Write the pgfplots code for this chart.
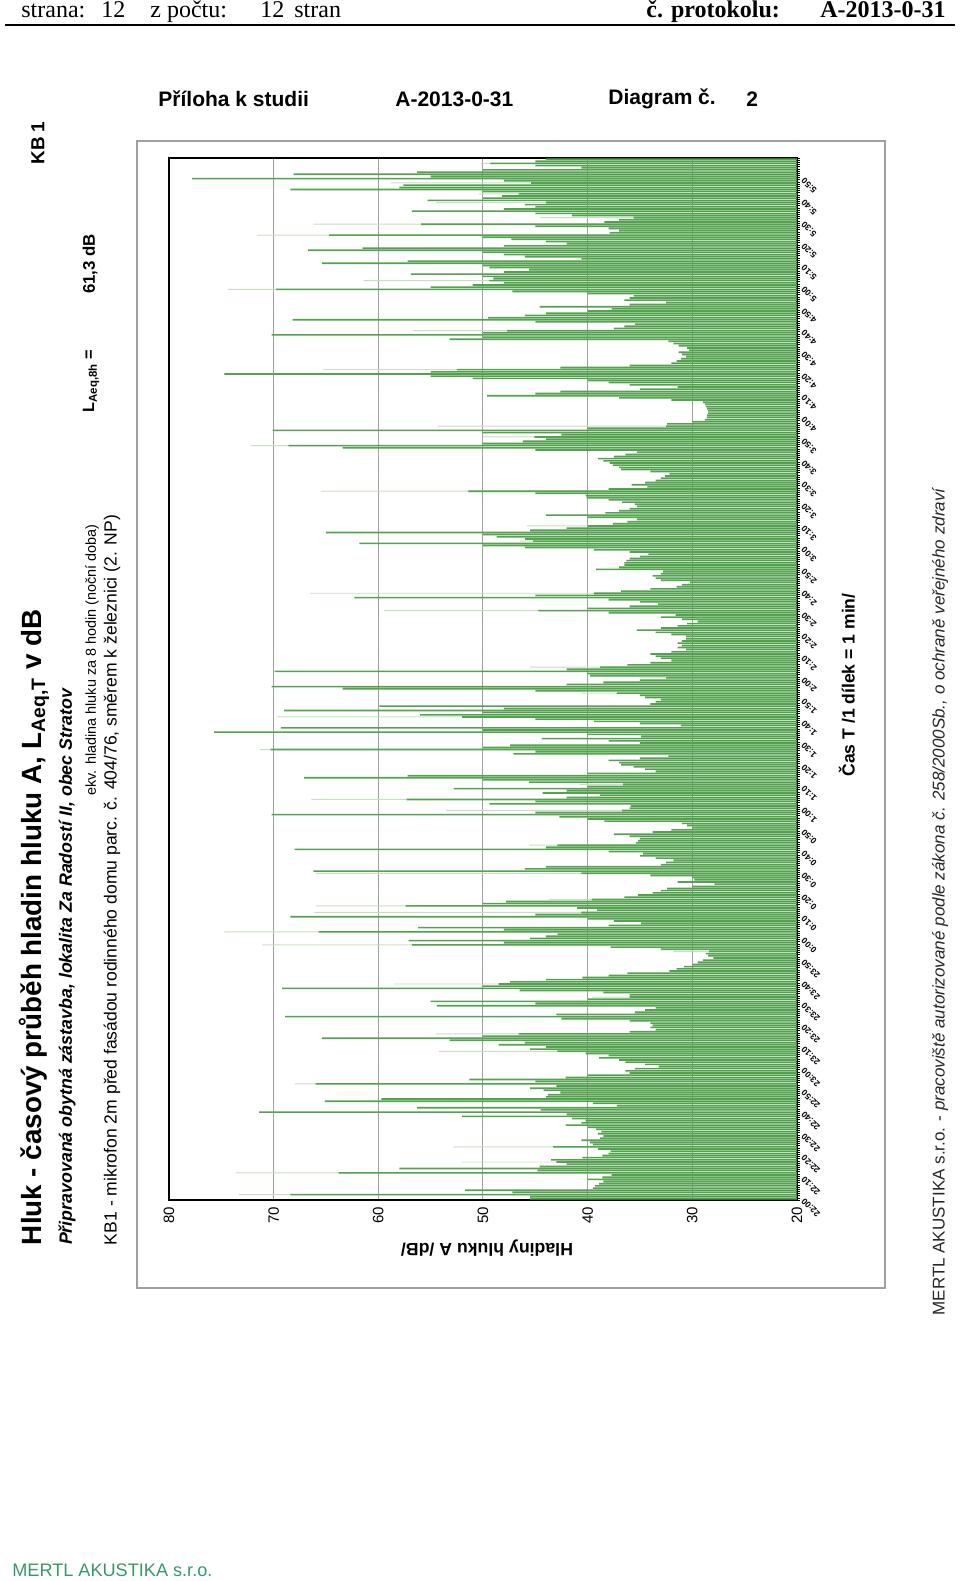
\documentclass[border=0pt]{standalone}
\usepackage{fontspec}
\setmainfont{Liberation Sans}
\newfontfamily\tnr{Liberation Serif}
\usepackage{graphicx}
\usepackage{pgfplots}
\usepackage{pgfplotstable}
\pgfplotsset{compat=1.18}
\definecolor{barfill}{RGB}{84,162,80}
\definecolor{barlight}{RGB}{200,222,194}
\definecolor{gridgray}{RGB}{160,160,160}
\definecolor{mertl}{RGB}{58,150,104}

% L_Aeq,1min for each minute m (0 = 22:00 ... 479 = 5:59)
\pgfplotstableread[row sep=\\]{
m v\\
0 45.5\\ 1 45.5\\ 2 68.4\\ 3 47.2\\ 4 51.7\\ 5 39.5\\ 6 39.3\\ 7 38.9\\ 8 38.5\\ 9 40\\
10 38.6\\ 11 37.7\\ 12 63.8\\ 13 44.8\\ 14 58\\ 15 44.6\\ 16 42\\ 17 43\\ 18 43.5\\ 19 40.5\\
20 38.6\\ 21 38\\ 22 37.8\\ 23 39\\ 24 43.3\\ 25 39.5\\ 26 39.8\\ 27 40.6\\ 28 38.8\\ 29 38.5\\
30 39\\ 31 38.7\\ 32 39.2\\ 33 40\\ 34 42.1\\ 35 40.6\\ 36 40.2\\ 37 41.5\\ 38 52\\ 39 42\\
40 71.4\\ 41 44.5\\ 42 56.3\\ 43 37.2\\ 44 39.5\\ 45 65.1\\ 46 59.7\\ 47 44\\ 48 43.8\\ 49 42.6\\
50 44.2\\ 51 45.5\\ 52 43\\ 53 66\\ 54 45\\ 55 51.3\\ 56 42.1\\ 57 40\\ 58 36\\ 59 36.4\\
60 35.5\\ 61 33.2\\ 62 34.5\\ 63 36.4\\ 64 37\\ 65 38.9\\ 66 38\\ 67 40.2\\ 68 42.9\\ 69 45.5\\
70 44\\ 71 48.5\\ 72 46\\ 73 53.2\\ 74 65.4\\ 75 50\\ 76 46.6\\ 77 36\\ 78 33.5\\ 79 34\\
80 33.8\\ 81 34\\ 82 36\\ 83 42.5\\ 84 68.9\\ 85 43\\ 86 35.5\\ 87 34.5\\ 88 33.5\\ 89 54.4\\
90 45\\ 91 55\\ 92 40\\ 93 36\\ 94 36\\ 95 38.5\\ 96 46.5\\ 97 69.2\\ 98 50\\ 99 48.5\\
100 47.4\\ 101 44\\ 102 40.5\\ 103 38\\ 104 36.2\\ 105 32.2\\ 106 31.5\\ 107 30.8\\ 108 30\\ 109 29.5\\
110 29\\ 111 28\\ 112 28.5\\ 113 28.7\\ 114 28.4\\ 115 33\\ 116 37.8\\ 117 56.8\\ 118 48\\ 119 57.1\\
120 45.5\\ 121 44\\ 122 42.9\\ 123 65.7\\ 124 48\\ 125 56.2\\ 126 38\\ 127 34.9\\ 128 37.5\\ 129 40\\
130 68.4\\ 131 45\\ 132 40.6\\ 133 39.1\\ 134 41\\ 135 57.4\\ 136 50\\ 137 47.8\\ 138 39.6\\ 139 36.5\\
140 35.2\\ 141 33.8\\ 142 33\\ 143 32.4\\ 144 30\\ 145 27.9\\ 146 31.4\\ 147 29.8\\ 148 30\\ 149 34\\
150 40.6\\ 151 66.2\\ 152 46\\ 153 44\\ 154 33\\ 155 32.5\\ 156 31.8\\ 157 33.5\\ 158 35\\ 159 34.7\\
160 38\\ 161 68\\ 162 44\\ 163 42.9\\ 164 35.4\\ 165 35.2\\ 166 35\\ 167 36\\ 168 37.5\\ 169 33.8\\
170 32\\ 171 30\\ 172 30.5\\ 173 31\\ 174 38.4\\ 175 40\\ 176 42.7\\ 177 70.2\\ 178 45\\ 179 36.7\\
180 36\\ 181 35.9\\ 182 49.4\\ 183 45\\ 184 57.3\\ 185 42\\ 186 38.8\\ 187 44.3\\ 188 42\\ 189 52.8\\
190 40\\ 191 36.6\\ 192 45.6\\ 193 50\\ 194 67.1\\ 195 57.2\\ 196 40\\ 197 33.5\\ 198 34.5\\ 199 35.6\\
200 36.8\\ 201 37\\ 202 38\\ 203 35\\ 204 32.3\\ 205 47.1\\ 206 45\\ 207 70.3\\ 208 50\\ 209 47.4\\
210 35\\ 211 38\\ 212 44.4\\ 213 34.9\\ 214 40\\ 215 75.7\\ 216 50\\ 217 69.3\\ 218 31.1\\ 219 35\\
220 39.4\\ 221 45\\ 222 52\\ 223 56\\ 224 50\\ 225 69\\ 226 48\\ 227 59.9\\ 228 34\\ 229 33.5\\
230 33\\ 231 34.5\\ 232 35\\ 233 37.2\\ 234 45\\ 235 63.4\\ 236 70.2\\ 237 42\\ 238 38.5\\ 239 35\\
240 32.5\\ 241 39.8\\ 242 40\\ 243 69.9\\ 244 42\\ 245 38.8\\ 246 36.2\\ 247 34\\ 248 32\\ 249 33\\
250 33.5\\ 251 34\\ 252 32\\ 253 30.6\\ 254 31.4\\ 255 31\\ 256 31.4\\ 257 31\\ 258 30.6\\ 259 30.6\\
260 32\\ 261 33.5\\ 262 35.3\\ 263 33\\ 264 31.4\\ 265 30.5\\ 266 29.5\\ 267 31\\ 268 33\\ 269 31.6\\
270 38\\ 271 44.7\\ 272 40\\ 273 36\\ 274 33.3\\ 275 35\\ 276 38\\ 277 62.3\\ 278 45\\ 279 39.4\\
280 36.8\\ 281 34\\ 282 31.5\\ 283 31\\ 284 30.2\\ 285 33\\ 286 33.5\\ 287 33.8\\ 288 33\\ 289 32.8\\
290 39.2\\ 291 37\\ 292 36.5\\ 293 36.5\\ 294 36.3\\ 295 36\\ 296 35\\ 297 34.2\\ 298 36\\ 299 39.4\\
300 46\\ 301 50\\ 302 61.8\\ 303 45.2\\ 304 46\\ 305 48.7\\ 306 50\\ 307 65\\ 308 45.5\\ 309 42\\
310 40\\ 311 37.6\\ 312 36.2\\ 313 35.3\\ 314 40\\ 315 44\\ 316 38.3\\ 317 37\\ 318 36\\ 319 35.3\\
320 35.5\\ 321 36.7\\ 322 38\\ 323 40.1\\ 324 40.2\\ 325 45\\ 326 51.4\\ 327 38\\ 328 34.3\\ 329 35.8\\
330 34.5\\ 331 33.5\\ 332 33\\ 333 32.6\\ 334 32.2\\ 335 34\\ 336 36.8\\ 337 37\\ 338 37.6\\ 339 37.9\\
340 38.5\\ 341 39\\ 342 37.5\\ 343 36.4\\ 344 35.3\\ 345 45\\ 346 63.4\\ 347 68.6\\ 348 50\\ 349 46.2\\
350 44\\ 351 45.1\\ 352 42.5\\ 353 50\\ 354 70.1\\ 355 40\\ 356 32.5\\ 357 32.4\\ 358 30\\ 359 28.8\\
360 28.6\\ 361 28.6\\ 362 28.5\\ 363 28.5\\ 364 28.6\\ 365 28.7\\ 366 28.8\\ 367 29\\ 368 32\\ 369 37\\
370 49.6\\ 371 45\\ 372 42.6\\ 373 35\\ 374 31.4\\ 375 36\\ 376 38\\ 377 40\\ 378 51\\ 379 55\\
380 74.7\\ 381 55\\ 382 52.5\\ 383 42.6\\ 384 36\\ 385 32\\ 386 31.5\\ 387 31.1\\ 388 30.6\\ 389 31\\
390 31.3\\ 391 30.3\\ 392 30.5\\ 393 31.3\\ 394 31.8\\ 395 32.3\\ 396 53.2\\ 397 50\\ 398 70.2\\ 399 50\\
400 47.7\\ 401 37.5\\ 402 36.5\\ 403 35.5\\ 404 45\\ 405 68.2\\ 406 49.5\\ 407 46\\ 408 44\\ 409 40\\
410 37.7\\ 411 44.6\\ 412 36\\ 413 32.5\\ 414 36.5\\ 415 36\\ 416 35.6\\ 417 40\\ 418 47.2\\ 419 69.8\\
420 55\\ 421 51\\ 422 48\\ 423 49.4\\ 424 49\\ 425 50\\ 426 56.9\\ 427 48\\ 428 45.6\\ 429 49.4\\
430 50\\ 431 65.4\\ 432 57.2\\ 433 40.6\\ 434 46\\ 435 48\\ 436 50\\ 437 66.7\\ 438 61.5\\ 439 48\\
440 42\\ 441 44\\ 442 47.3\\ 443 50\\ 444 64.7\\ 445 37.9\\ 446 37\\ 447 38\\ 448 45\\ 449 55.9\\
450 38.4\\ 451 37\\ 452 35.6\\ 453 41.5\\ 454 45\\ 455 56.8\\ 456 48\\ 457 45\\ 458 46\\ 459 44\\
460 55.3\\ 461 50\\ 462 48.2\\ 463 46.6\\ 464 50\\ 465 68.4\\ 466 58\\ 467 57.6\\ 468 45.4\\ 469 48\\
470 77.8\\ 471 55\\ 472 68.1\\ 473 56.3\\ 474 50\\ 475 40.6\\ 476 45\\ 477 49.3\\ 478 45\\ 479 44\\
}\levels

% second (light) series, only where it shows beyond the dark bars
\pgfplotstableread[row sep=\\]{
m v\\
2 73.3\\ 12 73.6\\ 17 52\\ 24 52.8\\ 42 55.5\\ 53 68\\ 68 54.2\\ 76 54.5\\
93 39.6\\ 99 58.5\\ 114 31.8\\ 117 71.1\\ 123 74.7\\ 132 66.1\\ 135 66\\
138 43.7\\ 150 66\\ 163 45.6\\ 179 53.5\\ 184 66.4\\ 191 40.8\\ 207 71.3\\
222 69.7\\ 233 40.6\\ 240 35\\ 245 45.5\\ 271 59.5\\ 279 66.5\\ 303 46.5\\
310 45.8\\ 326 65.5\\ 347 72.2\\ 351 50\\ 356 54.3\\ 382 65.3\\ 400 56.7\\
419 74.4\\ 423 61.4\\ 444 71.6\\ 449 66.2\\ 452 44.5\\ 459 54.5\\ 463 50.4\\
468 58.8\\ 477 50.2\\
}\light

\begin{document}
\begin{tikzpicture}
\path[use as bounding box] (0,0) rectangle (480pt,790.5pt);

% page header
\begin{scope}[every node/.style={anchor=base west, inner sep=0pt, font=\tnr\fontsize{12}{14}\selectfont}]
\node at (10.5pt,781.5pt) {strana:};
\node at (50.5pt,781.5pt) {12};
\node at (75pt,781.5pt) {z počtu:};
\node at (130pt,781.5pt) {12};
\node at (147pt,781.5pt) {stran};
\node at (323pt,781.5pt) {\bfseries č. protokolu:};
\node at (410pt,781.5pt) {\bfseries A-2013-0-31};
\end{scope}
\draw[line width=1pt] (2.5pt,778pt) -- (477.5pt,778pt);

% chart header
\begin{scope}[every node/.style={anchor=west, inner sep=0pt, font=\bfseries\fontsize{10.5}{12}\selectfont}]
\node at (79pt,741pt) {Příloha k studii};
\node at (197.5pt,741pt) {A-2013-0-31};
\node at (304pt,741pt) {Diagram č.};
\node at (373pt,741pt) {2};
\end{scope}

% chart area frame
\draw[gridgray, line width=0.8pt] (68.5pt,146.5pt) rectangle (442.5pt,720pt);

\begin{axis}[
  at={(84.5pt,190.5pt)}, anchor=south west,
  scale only axis, width=314pt, height=521pt,
  x dir=reverse, xmin=20, xmax=80, ymin=0, ymax=480,
  xtick={20,30,...,80},
  xmajorgrids, major grid style={gridgray, line width=0.5pt},
  /pgf/number format/assume math mode=true,
  xticklabel style={rotate=90, anchor=east, font=\fontsize{7.5}{8}\selectfont},
  ytick={0.5,10.5,...,470.5},
  yticklabels={22:00,22:10,22:20,22:30,22:40,22:50,23:00,23:10,23:20,23:30,23:40,23:50,
    0:00,0:10,0:20,0:30,0:40,0:50,1:00,1:10,1:20,1:30,1:40,1:50,
    2:00,2:10,2:20,2:30,2:40,2:50,3:00,3:10,3:20,3:30,3:40,3:50,
    4:00,4:10,4:20,4:30,4:40,4:50,5:00,5:10,5:20,5:30,5:40,5:50},
  minor ytick={0,1,...,480},
  major tick length=0pt, minor tick length=1.6pt, tick align=outside,
  ytick pos=right, xtick pos=bottom,
  minor tick style={black, line width=0.3pt},
  yticklabel shift=2.5pt,
  yticklabel style={rotate=135, anchor=east, inner sep=0.5pt, font=\bfseries\fontsize{4.3}{5}\selectfont},
  axis line style={black, line width=1pt},
]
\addplot[xbar, bar shift=0pt, bar width=0.45, fill=barlight, draw=none]
  table[x=v, y expr=\thisrow{m}+0.5] {\light};
\addplot[xbar, bar shift=0pt, bar width=0.74, fill=barfill, draw=none]
  table[x=v, y expr=\thisrow{m}+0.5] {\levels};
\end{axis}

% axis titles
\node[rotate=180, inner sep=0pt] at (243.5pt,166.5pt) {\resizebox{86pt}{!}{\bfseries Hladiny hluku A /dB/}};
\node[rotate=90, inner sep=0pt] at (423.5pt,448pt) {\resizebox{91.5pt}{!}{\bfseries Čas T /1 dílek = 1 min/}};

% left title block (rotated)
\node[rotate=90, inner sep=0pt] at (17pt,327pt) {\resizebox{318pt}{!}{\bfseries Hluk - časový průběh hladin hluku A, L\textsubscript{Aeq,T} v dB}};
\node[rotate=90, inner sep=0pt] at (33.5pt,307pt) {\resizebox{278pt}{!}{\bfseries\itshape Připravovaná obytná zástavba, lokalita Za Radostí II, obec Stratov}};
\node[rotate=90, inner sep=0pt] at (46pt,460.5pt) {\resizebox{135.5pt}{!}{ekv. hladina hluku za 8 hodin (noční doba)}};
\node[rotate=90, inner sep=0pt] at (56pt,350.5pt) {\resizebox{365pt}{!}{KB1 - mikrofon 2m před fasádou rodinného domu parc. č. 404/76, směrem k železnici (2. NP)}};
\node[rotate=90, inner sep=0pt] at (45.5pt,600pt) {\resizebox{31.5pt}{!}{\bfseries L\textsubscript{Aeq,8h} =}};
\node[rotate=90, inner sep=0pt] at (45pt,658.5pt) {\resizebox{30pt}{!}{\bfseries 61,3 dB}};
\node[rotate=90, inner sep=0pt] at (19pt,719pt) {\resizebox{21.5pt}{!}{\bfseries KB 1}};

% footer
\node[rotate=90, inner sep=0pt, text=black!85] at (470pt,339.5pt) {\resizebox{413.5pt}{!}{MERTL AKUSTIKA s.r.o. - \itshape pracoviště autorizované podle zákona č. 258/2000Sb., o ochraně veřejného zdraví}};
\node[anchor=west, inner sep=0pt, text=mertl] at (6pt,5.5pt) {\resizebox{100pt}{!}{MERTL AKUSTIKA s.r.o.}};
\end{tikzpicture}
\end{document}
